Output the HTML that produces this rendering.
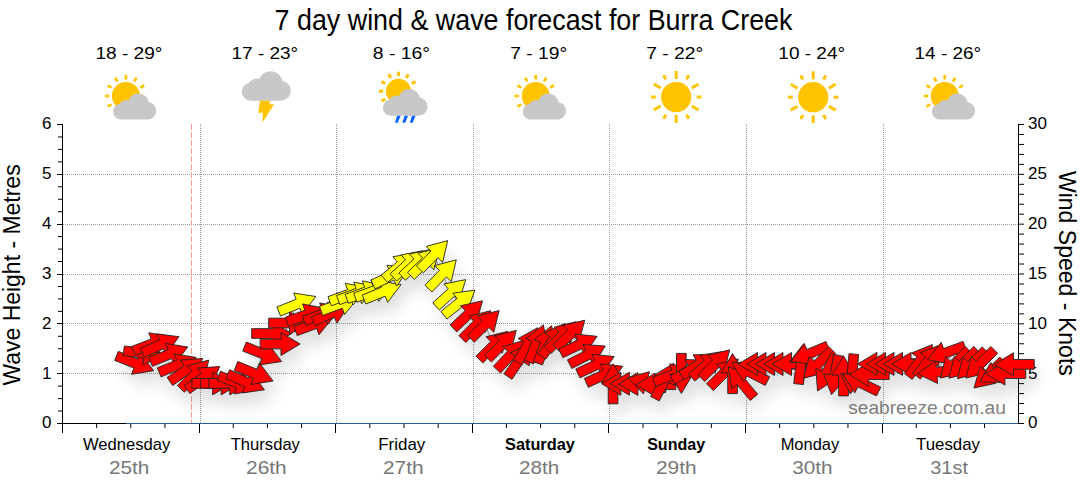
<!DOCTYPE html><html><head><meta charset="utf-8"><style>html,body{margin:0;padding:0;background:#fff;width:1080px;height:490px;overflow:hidden}svg{display:block}text{font-family:"Liberation Sans",sans-serif}</style></head><body>
<svg width="1080" height="490" viewBox="0 0 1080 490">
<defs><filter id="ash" x="-20%" y="-50%" width="140%" height="200%"><feGaussianBlur stdDeviation="8"/></filter></defs>
<text x="274.62" y="30" font-size="29.8" textLength="517.84" lengthAdjust="spacingAndGlyphs" fill="#000">7 day wind &amp; wave forecast for Burra Creek</text>
<text x="95.45" y="59" font-size="16.6" textLength="67.00" lengthAdjust="spacingAndGlyphs" fill="#000">18 - 29°</text>
<text x="231.56" y="59" font-size="16.6" textLength="66.58" lengthAdjust="spacingAndGlyphs" fill="#000">17 - 23°</text>
<text x="372.86" y="59" font-size="16.6" textLength="57.20" lengthAdjust="spacingAndGlyphs" fill="#000">8 - 16°</text>
<text x="510.31" y="59" font-size="16.6" textLength="56.94" lengthAdjust="spacingAndGlyphs" fill="#000">7 - 19°</text>
<text x="646.21" y="59" font-size="16.6" textLength="57.05" lengthAdjust="spacingAndGlyphs" fill="#000">7 - 22°</text>
<text x="778.35" y="59" font-size="16.6" textLength="66.79" lengthAdjust="spacingAndGlyphs" fill="#000">10 - 24°</text>
<text x="914.56" y="59" font-size="16.6" textLength="66.58" lengthAdjust="spacingAndGlyphs" fill="#000">14 - 26°</text>
<circle cx="125.9" cy="96" r="14" fill="#ffc300"/><path d="M125.90 79.40L125.90 74.90M134.20 81.62L136.45 77.73M140.28 87.70L144.17 85.45M111.52 104.30L107.63 106.55M109.30 96.00L104.80 96.00M111.52 87.70L107.63 85.45M117.60 81.62L115.35 77.73" stroke="#ffc300" stroke-width="2.7" fill="none"/><path d="M127.94 104.34A10.54 10.54 0 1 1 149.01 104.34A10.54 10.54 0 1 1 127.94 104.34ZM117.75 108.90A8.78 8.78 0 1 1 135.31 108.90A8.78 8.78 0 1 1 117.75 108.90ZM113.10 111.71A7.90 7.90 0 1 1 128.90 111.71A7.90 7.90 0 1 1 113.10 111.71ZM138.74 110.83A8.78 8.78 0 1 1 156.30 110.83A8.78 8.78 0 1 1 138.74 110.83ZM121.00 108.46h26.52v11.15h-26.52Z" fill="#c8c8c8"/><path d="M258.60 83.30A12.00 12.00 0 1 1 282.60 83.30A12.00 12.00 0 1 1 258.60 83.30ZM247.00 88.50A10.00 10.00 0 1 1 267.00 88.50A10.00 10.00 0 1 1 247.00 88.50ZM241.70 91.70A9.00 9.00 0 1 1 259.70 91.70A9.00 9.00 0 1 1 241.70 91.70ZM270.90 90.70A10.00 10.00 0 1 1 290.90 90.70A10.00 10.00 0 1 1 270.90 90.70ZM250.70 88.00h30.20v12.70h-30.20Z" fill="#c8c8c8"/><polygon points="260.0,100.7 270.2,100.7 269.1,104.2 274.0,104.2 262.6,122.6 262.9,112.7 258.2,112.7" fill="#ffc300"/><circle cx="398.5" cy="91.3" r="12.6" fill="#ffc300"/><path d="M398.50 75.90L398.50 71.70M406.20 77.96L408.30 74.33M411.84 83.60L415.47 81.50M385.16 99.00L381.53 101.10M383.10 91.30L378.90 91.30M385.16 83.60L381.53 81.50M390.80 77.96L388.70 74.33" stroke="#ffc300" stroke-width="3" fill="none"/><path d="M398.21 99.94A10.94 10.94 0 1 1 420.10 99.94A10.94 10.94 0 1 1 398.21 99.94ZM387.63 104.69A9.12 9.12 0 1 1 405.87 104.69A9.12 9.12 0 1 1 387.63 104.69ZM382.80 107.60A8.21 8.21 0 1 1 399.22 107.60A8.21 8.21 0 1 1 382.80 107.60ZM409.43 106.69A9.12 9.12 0 1 1 427.67 106.69A9.12 9.12 0 1 1 409.43 106.69ZM391.01 104.23h27.54v11.58h-27.54Z" fill="#c8c8c8"/><polygon points="397.0,115.7 400.6,115.7 397.8,122.7 394.9,122.7" fill="#0a64ff"/><polygon points="404.45,115.7 408.05,115.7 405.25,122.7 402.34999999999997,122.7" fill="#0a64ff"/><polygon points="411.9,115.7 415.5,115.7 412.7,122.7 409.79999999999995,122.7" fill="#0a64ff"/><circle cx="535.7" cy="96" r="14" fill="#ffc300"/><path d="M535.70 79.40L535.70 74.90M544.00 81.62L546.25 77.73M550.08 87.70L553.97 85.45M521.32 104.30L517.43 106.55M519.10 96.00L514.60 96.00M521.32 87.70L517.43 85.45M527.40 81.62L525.15 77.73" stroke="#ffc300" stroke-width="2.7" fill="none"/><path d="M537.74 104.34A10.54 10.54 0 1 1 558.81 104.34A10.54 10.54 0 1 1 537.74 104.34ZM527.55 108.90A8.78 8.78 0 1 1 545.11 108.90A8.78 8.78 0 1 1 527.55 108.90ZM522.90 111.71A7.90 7.90 0 1 1 538.70 111.71A7.90 7.90 0 1 1 522.90 111.71ZM548.54 110.83A8.78 8.78 0 1 1 566.10 110.83A8.78 8.78 0 1 1 548.54 110.83ZM530.80 108.46h26.52v11.15h-26.52Z" fill="#c8c8c8"/><circle cx="676.2" cy="97" r="15.1" fill="#ffc300"/><path d="M676.20 79.00L676.20 71.10M686.45 79.25L688.80 75.18M691.79 88.00L698.63 84.05M696.70 97.00L701.40 97.00M691.79 106.00L698.63 109.95M686.45 114.75L688.80 118.82M676.20 115.00L676.20 122.90M665.95 114.75L663.60 118.82M660.61 106.00L653.77 109.95M655.70 97.00L651.00 97.00M660.61 88.00L653.77 84.05M665.95 79.25L663.60 75.18" stroke="#ffc300" stroke-width="3" fill="none"/><circle cx="813.2" cy="97.2" r="15.1" fill="#ffc300"/><path d="M813.20 79.20L813.20 71.30M823.45 79.45L825.80 75.38M828.79 88.20L835.63 84.25M833.70 97.20L838.40 97.20M828.79 106.20L835.63 110.15M823.45 114.95L825.80 119.02M813.20 115.20L813.20 123.10M802.95 114.95L800.60 119.02M797.61 106.20L790.77 110.15M792.70 97.20L788.00 97.20M797.61 88.20L790.77 84.25M802.95 79.45L800.60 75.38" stroke="#ffc300" stroke-width="3" fill="none"/><circle cx="944.7" cy="96" r="14" fill="#ffc300"/><path d="M944.70 79.40L944.70 74.90M953.00 81.62L955.25 77.73M959.08 87.70L962.97 85.45M930.32 104.30L926.43 106.55M928.10 96.00L923.60 96.00M930.32 87.70L926.43 85.45M936.40 81.62L934.15 77.73" stroke="#ffc300" stroke-width="2.7" fill="none"/><path d="M946.74 104.34A10.54 10.54 0 1 1 967.81 104.34A10.54 10.54 0 1 1 946.74 104.34ZM936.55 108.90A8.78 8.78 0 1 1 954.11 108.90A8.78 8.78 0 1 1 936.55 108.90ZM931.90 111.71A7.90 7.90 0 1 1 947.70 111.71A7.90 7.90 0 1 1 931.90 111.71ZM957.54 110.83A8.78 8.78 0 1 1 975.10 110.83A8.78 8.78 0 1 1 957.54 110.83ZM939.80 108.46h26.52v11.15h-26.52Z" fill="#c8c8c8"/>
<text x="848.17" y="414" font-size="19" textLength="157.71" lengthAdjust="spacingAndGlyphs" fill="#808080">seabreeze.com.au</text>
<line x1="63" y1="373.5" x2="1018" y2="373.5" stroke="#999" stroke-width="1" stroke-dasharray="1 1"/>
<line x1="63" y1="323.5" x2="1018" y2="323.5" stroke="#999" stroke-width="1" stroke-dasharray="1 1"/>
<line x1="63" y1="274.5" x2="1018" y2="274.5" stroke="#999" stroke-width="1" stroke-dasharray="1 1"/>
<line x1="63" y1="224.5" x2="1018" y2="224.5" stroke="#999" stroke-width="1" stroke-dasharray="1 1"/>
<line x1="63" y1="174.5" x2="1018" y2="174.5" stroke="#999" stroke-width="1" stroke-dasharray="1 1"/>
<line x1="200.5" y1="124" x2="200.5" y2="423" stroke="#999" stroke-width="1" stroke-dasharray="1 1"/>
<line x1="336.5" y1="124" x2="336.5" y2="423" stroke="#999" stroke-width="1" stroke-dasharray="1 1"/>
<line x1="473.5" y1="124" x2="473.5" y2="423" stroke="#999" stroke-width="1" stroke-dasharray="1 1"/>
<line x1="609.5" y1="124" x2="609.5" y2="423" stroke="#999" stroke-width="1" stroke-dasharray="1 1"/>
<line x1="746.5" y1="124" x2="746.5" y2="423" stroke="#999" stroke-width="1" stroke-dasharray="1 1"/>
<line x1="883.5" y1="124" x2="883.5" y2="423" stroke="#999" stroke-width="1" stroke-dasharray="1 1"/>
<line x1="191.5" y1="124" x2="191.5" y2="423" stroke="#ff9999" stroke-width="1" stroke-dasharray="6 2"/>
<g stroke="#000" stroke-width="1" shape-rendering="crispEdges">
<line x1="62.5" y1="124" x2="62.5" y2="433"/>
<line x1="57" y1="423.5" x2="126" y2="423.5"/>
<line x1="1018.5" y1="124" x2="1018.5" y2="424"/>
<line x1="57" y1="423.5" x2="62" y2="423.5"/>
<line x1="57" y1="373.5" x2="62" y2="373.5"/>
<line x1="57" y1="323.5" x2="62" y2="323.5"/>
<line x1="57" y1="274.5" x2="62" y2="274.5"/>
<line x1="57" y1="224.5" x2="62" y2="224.5"/>
<line x1="57" y1="174.5" x2="62" y2="174.5"/>
<line x1="57" y1="124.5" x2="62" y2="124.5"/>
<line x1="199.5" y1="424" x2="199.5" y2="433"/>
<line x1="335.5" y1="424" x2="335.5" y2="433"/>
<line x1="472.5" y1="424" x2="472.5" y2="433"/>
<line x1="608.5" y1="424" x2="608.5" y2="433"/>
<line x1="745.5" y1="424" x2="745.5" y2="433"/>
<line x1="882.5" y1="424" x2="882.5" y2="433"/>
</g><g stroke="#000" stroke-width="1">
<line x1="58" y1="411.04" x2="62" y2="411.04"/>
<line x1="58" y1="398.58" x2="62" y2="398.58"/>
<line x1="58" y1="386.12" x2="62" y2="386.12"/>
<line x1="58" y1="361.21" x2="62" y2="361.21"/>
<line x1="58" y1="348.75" x2="62" y2="348.75"/>
<line x1="58" y1="336.29" x2="62" y2="336.29"/>
<line x1="58" y1="311.38" x2="62" y2="311.38"/>
<line x1="58" y1="298.92" x2="62" y2="298.92"/>
<line x1="58" y1="286.46" x2="62" y2="286.46"/>
<line x1="58" y1="261.54" x2="62" y2="261.54"/>
<line x1="58" y1="249.08" x2="62" y2="249.08"/>
<line x1="58" y1="236.62" x2="62" y2="236.62"/>
<line x1="58" y1="211.71" x2="62" y2="211.71"/>
<line x1="58" y1="199.25" x2="62" y2="199.25"/>
<line x1="58" y1="186.79" x2="62" y2="186.79"/>
<line x1="58" y1="161.88" x2="62" y2="161.88"/>
<line x1="58" y1="149.42" x2="62" y2="149.42"/>
<line x1="58" y1="136.96" x2="62" y2="136.96"/>
<line x1="1019" y1="423.50" x2="1024" y2="423.50"/>
<line x1="1019" y1="413.53" x2="1024" y2="413.53"/>
<line x1="1019" y1="403.57" x2="1024" y2="403.57"/>
<line x1="1019" y1="393.60" x2="1024" y2="393.60"/>
<line x1="1019" y1="383.63" x2="1024" y2="383.63"/>
<line x1="1019" y1="373.67" x2="1024" y2="373.67"/>
<line x1="1019" y1="363.70" x2="1024" y2="363.70"/>
<line x1="1019" y1="353.73" x2="1024" y2="353.73"/>
<line x1="1019" y1="343.77" x2="1024" y2="343.77"/>
<line x1="1019" y1="333.80" x2="1024" y2="333.80"/>
<line x1="1019" y1="323.83" x2="1024" y2="323.83"/>
<line x1="1019" y1="313.87" x2="1024" y2="313.87"/>
<line x1="1019" y1="303.90" x2="1024" y2="303.90"/>
<line x1="1019" y1="293.93" x2="1024" y2="293.93"/>
<line x1="1019" y1="283.97" x2="1024" y2="283.97"/>
<line x1="1019" y1="274.00" x2="1024" y2="274.00"/>
<line x1="1019" y1="264.03" x2="1024" y2="264.03"/>
<line x1="1019" y1="254.07" x2="1024" y2="254.07"/>
<line x1="1019" y1="244.10" x2="1024" y2="244.10"/>
<line x1="1019" y1="234.13" x2="1024" y2="234.13"/>
<line x1="1019" y1="224.17" x2="1024" y2="224.17"/>
<line x1="1019" y1="214.20" x2="1024" y2="214.20"/>
<line x1="1019" y1="204.23" x2="1024" y2="204.23"/>
<line x1="1019" y1="194.27" x2="1024" y2="194.27"/>
<line x1="1019" y1="184.30" x2="1024" y2="184.30"/>
<line x1="1019" y1="174.33" x2="1024" y2="174.33"/>
<line x1="1019" y1="164.37" x2="1024" y2="164.37"/>
<line x1="1019" y1="154.40" x2="1024" y2="154.40"/>
<line x1="1019" y1="144.43" x2="1024" y2="144.43"/>
<line x1="1019" y1="134.47" x2="1024" y2="134.47"/>
<line x1="1019" y1="124.50" x2="1024" y2="124.50"/>
<line x1="96.65" y1="424" x2="96.65" y2="428"/>
<line x1="130.80" y1="424" x2="130.80" y2="428"/>
<line x1="164.95" y1="424" x2="164.95" y2="428"/>
<line x1="233.25" y1="424" x2="233.25" y2="428"/>
<line x1="267.40" y1="424" x2="267.40" y2="428"/>
<line x1="301.55" y1="424" x2="301.55" y2="428"/>
<line x1="369.85" y1="424" x2="369.85" y2="428"/>
<line x1="404.00" y1="424" x2="404.00" y2="428"/>
<line x1="438.15" y1="424" x2="438.15" y2="428"/>
<line x1="506.45" y1="424" x2="506.45" y2="428"/>
<line x1="540.60" y1="424" x2="540.60" y2="428"/>
<line x1="574.75" y1="424" x2="574.75" y2="428"/>
<line x1="643.05" y1="424" x2="643.05" y2="428"/>
<line x1="677.20" y1="424" x2="677.20" y2="428"/>
<line x1="711.35" y1="424" x2="711.35" y2="428"/>
<line x1="779.65" y1="424" x2="779.65" y2="428"/>
<line x1="813.80" y1="424" x2="813.80" y2="428"/>
<line x1="847.95" y1="424" x2="847.95" y2="428"/>
<line x1="916.25" y1="424" x2="916.25" y2="428"/>
<line x1="950.40" y1="424" x2="950.40" y2="428"/>
<line x1="984.55" y1="424" x2="984.55" y2="428"/>
</g>
<line x1="126" y1="423.5" x2="1018" y2="423.5" stroke="#2a6496" stroke-width="1" shape-rendering="crispEdges"/>
<text x="51.5" y="428.3" font-size="17" text-anchor="end" fill="#000">0</text>
<text x="51.5" y="378.5" font-size="17" text-anchor="end" fill="#000">1</text>
<text x="51.5" y="328.6" font-size="17" text-anchor="end" fill="#000">2</text>
<text x="51.5" y="278.8" font-size="17" text-anchor="end" fill="#000">3</text>
<text x="51.5" y="229.0" font-size="17" text-anchor="end" fill="#000">4</text>
<text x="51.5" y="179.1" font-size="17" text-anchor="end" fill="#000">5</text>
<text x="51.5" y="129.3" font-size="17" text-anchor="end" fill="#000">6</text>
<text x="1028" y="428.3" font-size="17" fill="#000">0</text>
<text x="1028" y="378.5" font-size="17" fill="#000">5</text>
<text x="1028" y="328.6" font-size="17" fill="#000">10</text>
<text x="1028" y="278.8" font-size="17" fill="#000">15</text>
<text x="1028" y="229.0" font-size="17" fill="#000">20</text>
<text x="1028" y="179.1" font-size="17" fill="#000">25</text>
<text x="1028" y="129.3" font-size="17" fill="#000">30</text>
<g transform="translate(20,385.5) rotate(-90)">
<text x="-0.10" y="0" font-size="23.5" textLength="221.23" lengthAdjust="spacingAndGlyphs" fill="#000">Wave Height - Metres</text>
</g>
<g transform="translate(1059.4,171) rotate(90)">
<text x="-0.10" y="0" font-size="23.5" textLength="204.93" lengthAdjust="spacingAndGlyphs" fill="#000">Wind Speed - Knots</text>
</g>
<text x="82.93" y="450" font-size="17" textLength="87.36" lengthAdjust="spacingAndGlyphs" fill="#000">Wednesday</text>
<text x="108.96" y="474" font-size="18.5" textLength="40.39" lengthAdjust="spacingAndGlyphs" fill="#777">25th</text>
<text x="230.73" y="450" font-size="17" textLength="69.21" lengthAdjust="spacingAndGlyphs" fill="#000">Thursday</text>
<text x="246.05" y="474" font-size="18.5" textLength="40.71" lengthAdjust="spacingAndGlyphs" fill="#777">26th</text>
<text x="378.21" y="450" font-size="17" textLength="47.12" lengthAdjust="spacingAndGlyphs" fill="#000">Friday</text>
<text x="382.95" y="474" font-size="18.5" textLength="40.60" lengthAdjust="spacingAndGlyphs" fill="#777">27th</text>
<text x="505.03" y="450" font-size="17" font-weight="bold" textLength="69.76" lengthAdjust="spacingAndGlyphs" fill="#000">Saturday</text>
<text x="519.06" y="474" font-size="18.5" textLength="40.18" lengthAdjust="spacingAndGlyphs" fill="#777">28th</text>
<text x="647.14" y="450" font-size="17" font-weight="bold" textLength="57.95" lengthAdjust="spacingAndGlyphs" fill="#000">Sunday</text>
<text x="655.95" y="474" font-size="18.5" textLength="40.71" lengthAdjust="spacingAndGlyphs" fill="#777">29th</text>
<text x="780.65" y="450" font-size="17" textLength="58.58" lengthAdjust="spacingAndGlyphs" fill="#000">Monday</text>
<text x="792.21" y="474" font-size="18.5" textLength="40.34" lengthAdjust="spacingAndGlyphs" fill="#777">30th</text>
<text x="916.03" y="450" font-size="17" textLength="64.01" lengthAdjust="spacingAndGlyphs" fill="#000">Tuesday</text>
<text x="930.24" y="474" font-size="18.5" textLength="37.71" lengthAdjust="spacingAndGlyphs" fill="#777">31st</text>
<g filter="url(#ash)" fill="#000" opacity="0.13" transform="translate(5,12)"><polygon points="118.29,351.37 137.60,359.09 140.07,352.92 153.63,370.73 131.53,374.27 134.00,368.10 114.69,360.38"/><polygon points="124.33,345.95 144.98,348.48 145.79,341.88 163.44,355.64 142.98,364.71 143.79,358.11 123.15,355.58"/><polygon points="131.72,346.44 151.14,338.99 148.75,332.78 170.80,336.63 157.00,354.25 154.61,348.04 135.19,355.50"/><polygon points="140.40,348.30 159.45,339.94 156.77,333.85 178.98,336.66 166.02,354.91 163.35,348.82 144.30,357.18"/><polygon points="148.82,357.25 168.16,349.60 165.71,343.41 187.80,347.04 174.18,364.80 171.73,358.61 152.39,366.27"/><polygon points="157.37,367.86 176.67,360.10 174.19,353.93 196.29,357.44 182.77,375.27 180.29,369.10 160.99,376.86"/><polygon points="167.11,377.50 184.15,365.57 180.33,360.12 202.66,358.53 193.52,378.96 189.71,373.51 172.67,385.44"/><polygon points="177.43,385.52 191.87,370.56 187.09,365.94 208.70,360.11 203.64,381.91 198.85,377.29 184.40,392.26"/><polygon points="184.18,385.50 201.22,373.57 197.40,368.12 219.73,366.53 210.60,386.96 206.78,381.51 189.74,393.44"/><polygon points="191.88,378.55 212.68,378.55 212.68,371.90 231.88,383.40 212.68,394.90 212.68,388.25 191.88,388.25"/><polygon points="200.42,378.55 221.22,378.55 221.22,371.90 240.42,383.40 221.22,394.90 221.22,388.25 200.42,388.25"/><polygon points="208.95,378.55 229.75,378.55 229.75,371.90 248.95,383.40 229.75,394.90 229.75,388.25 208.95,388.25"/><polygon points="220.55,371.30 239.97,378.76 242.36,372.55 256.16,390.17 234.11,394.02 236.50,387.81 217.08,380.36"/><polygon points="229.51,369.72 248.66,377.85 251.25,371.73 264.43,389.81 242.27,392.90 244.87,386.78 225.72,378.65"/><polygon points="237.83,361.51 257.12,369.30 259.61,363.14 273.10,380.99 250.99,384.46 253.48,378.30 234.20,370.50"/><polygon points="246.37,342.01 265.65,349.80 268.15,343.64 281.64,361.49 259.53,364.96 262.02,358.80 242.74,351.00"/><polygon points="251.63,328.65 272.43,328.65 272.43,322.00 291.63,333.50 272.43,345.00 272.43,338.35 251.63,338.35"/><polygon points="260.17,339.15 280.97,339.15 280.97,332.50 300.17,344.00 280.97,355.50 280.97,348.85 260.17,348.85"/><polygon points="268.70,318.15 289.50,318.15 289.50,311.50 308.70,323.00 289.50,334.50 289.50,327.85 268.70,327.85"/><polygon points="276.88,307.00 296.16,299.20 293.67,293.04 315.78,296.51 302.29,314.36 299.80,308.20 280.51,315.99"/><polygon points="285.32,317.28 304.87,310.17 302.59,303.92 324.57,308.16 310.46,325.53 308.19,319.28 288.64,326.40"/><polygon points="293.86,326.48 313.40,319.37 311.13,313.12 333.11,317.36 319.00,334.73 316.72,328.48 297.18,335.60"/><polygon points="302.40,316.28 321.94,309.17 319.67,302.92 341.64,307.16 327.53,324.53 325.26,318.28 305.71,325.40"/><polygon points="311.21,317.06 330.06,308.27 327.25,302.24 349.51,304.55 336.97,323.08 334.16,317.06 315.31,325.85"/><polygon points="319.47,306.28 339.01,299.17 336.74,292.92 358.71,297.16 344.60,314.53 342.33,308.28 322.78,315.40"/><polygon points="328.00,296.68 347.55,289.57 345.27,283.32 367.25,287.56 353.14,304.93 350.87,298.68 331.32,305.80"/><polygon points="336.54,295.48 356.08,288.37 353.81,282.12 375.79,286.36 361.68,303.73 359.40,297.48 339.86,304.60"/><polygon points="345.08,294.28 364.62,287.17 362.35,280.92 384.32,285.16 370.21,302.53 367.94,296.28 348.39,303.40"/><polygon points="353.61,293.08 373.16,285.97 370.88,279.72 392.86,283.96 378.75,301.33 376.47,295.08 356.93,302.20"/><polygon points="362.24,295.00 381.52,287.20 379.03,281.04 401.14,284.51 387.65,302.36 385.16,296.20 365.87,303.99"/><polygon points="370.96,280.06 389.81,271.27 387.00,265.24 409.26,267.55 396.72,286.08 393.91,280.06 375.06,288.85"/><polygon points="381.23,275.14 397.17,261.77 392.89,256.68 414.99,253.14 407.68,274.30 403.40,269.20 387.47,282.57"/><polygon points="390.10,273.78 405.56,259.86 401.11,254.92 423.07,250.62 416.50,272.01 412.05,267.07 396.59,280.99"/><polygon points="398.81,273.09 414.02,258.91 409.49,254.04 431.37,249.36 425.17,270.86 420.64,266.00 405.42,280.19"/><polygon points="407.52,272.40 422.49,257.96 417.87,253.17 439.67,248.11 433.84,269.72 429.22,264.93 414.26,279.38"/><polygon points="416.43,266.02 430.88,251.06 426.10,246.44 447.71,240.61 442.64,262.41 437.86,257.79 423.41,272.76"/><polygon points="424.97,285.22 439.42,270.26 434.64,265.64 456.25,259.81 451.18,281.61 446.40,276.99 431.95,291.96"/><polygon points="432.78,302.78 448.24,288.86 443.79,283.92 465.75,279.62 459.18,301.01 454.73,296.07 439.27,309.99"/><polygon points="440.83,311.52 456.99,298.43 452.81,293.26 474.97,290.11 467.28,311.13 463.10,305.97 446.93,319.06"/><polygon points="450.11,324.85 465.20,310.53 460.62,305.71 482.47,300.83 476.46,322.39 471.88,317.57 456.79,331.89"/><polygon points="458.92,335.61 473.63,320.90 468.93,316.20 490.64,310.76 485.19,332.47 480.49,327.76 465.78,342.47"/><polygon points="467.46,335.41 482.17,320.70 477.47,316.00 499.17,310.56 493.73,332.27 489.03,327.56 474.32,342.27"/><polygon points="476.00,356.21 490.70,341.50 486.00,336.80 507.71,331.36 502.27,353.07 497.56,348.36 482.86,363.07"/><polygon points="484.53,355.21 499.24,340.50 494.54,335.80 516.25,330.36 510.80,352.07 506.10,347.36 491.39,362.07"/><polygon points="493.45,366.32 507.64,351.11 502.78,346.57 524.28,340.37 519.60,362.26 514.73,357.72 500.55,372.93"/><polygon points="503.97,373.87 515.60,356.62 510.09,352.91 530.36,343.42 529.16,365.77 523.64,362.05 512.01,379.29"/><polygon points="513.51,359.90 523.91,341.88 518.15,338.56 537.71,327.68 538.07,350.06 532.31,346.73 521.91,364.75"/><polygon points="524.55,360.43 532.01,341.02 525.80,338.63 543.42,324.83 547.27,346.87 541.06,344.49 533.61,363.91"/><polygon points="533.39,361.64 540.50,342.09 534.25,339.82 551.62,325.71 555.86,347.68 549.62,345.41 542.50,364.95"/><polygon points="537.88,353.60 549.81,336.56 544.36,332.75 564.79,323.62 563.20,345.94 557.75,342.13 545.82,359.16"/><polygon points="544.28,346.61 558.99,331.90 554.29,327.20 576.00,321.76 570.55,343.47 565.85,338.76 551.14,353.47"/><polygon points="552.64,344.50 567.60,330.06 562.98,325.27 584.78,320.21 578.96,341.82 574.34,337.03 559.37,351.48"/><polygon points="558.75,348.86 577.60,340.07 574.79,334.04 597.05,336.35 584.51,354.88 581.70,348.86 562.85,357.65"/><polygon points="567.44,359.86 585.97,350.42 582.96,344.49 605.28,346.02 593.40,364.98 590.38,359.06 571.85,368.50"/><polygon points="575.82,369.06 594.68,360.27 591.86,354.24 614.13,356.55 601.59,375.08 598.77,369.06 579.92,377.85"/><polygon points="584.33,378.48 603.25,369.85 600.49,363.80 622.74,366.31 610.03,384.73 607.28,378.68 588.35,387.31"/><polygon points="608.22,403.80 608.22,383.00 601.57,383.00 613.07,363.80 624.57,383.00 617.92,383.00 617.92,403.80"/><polygon points="641.61,388.55 620.81,388.55 620.81,395.20 601.61,383.70 620.81,372.20 620.81,378.85 641.61,378.85"/><polygon points="650.14,388.55 629.34,388.55 629.34,395.20 610.14,383.70 629.34,372.20 629.34,378.85 650.14,378.85"/><polygon points="658.68,388.85 637.88,388.85 637.88,395.50 618.68,384.00 637.88,372.50 637.88,379.15 658.68,379.15"/><polygon points="665.28,392.86 645.19,387.48 643.47,393.90 627.90,377.82 649.42,371.68 647.70,378.11 667.79,383.49"/><polygon points="675.75,389.55 654.95,389.55 654.95,396.20 635.75,384.70 654.95,373.20 654.95,379.85 675.75,379.85"/><polygon points="650.62,396.38 660.38,378.02 654.51,374.89 673.68,363.34 674.82,385.69 668.95,382.57 659.18,400.94"/><polygon points="652.37,377.28 671.92,370.17 669.64,363.92 691.62,368.16 677.51,385.53 675.23,379.28 655.69,386.40"/><polygon points="686.21,353.40 686.21,374.20 692.86,374.20 681.36,393.40 669.86,374.20 676.51,374.20 676.51,353.40"/><polygon points="670.15,375.80 688.16,365.40 684.84,359.64 707.22,360.00 696.34,379.56 693.01,373.80 675.00,384.20"/><polygon points="678.90,371.49 696.54,360.46 693.02,354.82 715.39,354.40 705.20,374.33 701.68,368.69 684.04,379.71"/><polygon points="688.53,373.64 704.46,360.27 700.19,355.18 722.29,351.64 714.97,372.80 710.70,367.70 694.76,381.07"/><polygon points="697.93,374.71 712.64,360.00 707.94,355.30 729.65,349.86 724.20,371.57 719.50,366.86 704.79,381.57"/><polygon points="706.47,383.71 721.18,369.00 716.47,364.30 738.18,358.86 732.74,380.57 728.04,375.86 713.33,390.57"/><polygon points="727.73,393.60 727.73,372.80 721.08,372.80 732.58,353.60 744.08,372.80 737.43,372.80 737.43,393.60"/><polygon points="750.25,400.44 736.88,384.50 731.79,388.78 728.26,366.68 749.41,374.00 744.31,378.27 757.68,394.20"/><polygon points="765.27,385.40 746.73,375.96 743.71,381.88 731.83,362.92 754.16,361.39 751.14,367.32 769.67,376.76"/><polygon points="778.18,368.85 757.38,368.85 757.38,375.50 738.18,364.00 757.38,352.50 757.38,359.15 778.18,359.15"/><polygon points="786.72,368.85 765.92,368.85 765.92,375.50 746.72,364.00 765.92,352.50 765.92,359.15 786.72,359.15"/><polygon points="795.26,368.85 774.46,368.85 774.46,375.50 755.26,364.00 774.46,352.50 774.46,359.15 795.26,359.15"/><polygon points="803.79,368.85 782.99,368.85 782.99,375.50 763.79,364.00 782.99,352.50 782.99,359.15 803.79,359.15"/><polygon points="812.33,368.85 791.53,368.85 791.53,375.50 772.33,364.00 791.53,352.50 791.53,359.15 812.33,359.15"/><polygon points="793.78,383.52 796.14,362.86 789.53,362.10 803.13,344.33 812.38,364.71 805.77,363.95 803.42,384.62"/><polygon points="829.73,350.49 810.53,358.49 813.08,364.62 790.94,361.39 804.24,343.39 806.80,349.53 826.00,341.54"/><polygon points="835.51,353.29 820.80,368.00 825.50,372.70 803.79,378.14 809.24,356.43 813.94,361.14 828.65,346.43"/><polygon points="839.76,357.29 830.45,375.89 836.40,378.86 817.52,390.88 815.83,368.57 821.78,371.54 831.09,352.95"/><polygon points="843.26,356.15 839.65,376.63 846.19,377.78 831.54,394.70 823.54,373.79 830.09,374.95 833.70,354.46"/><polygon points="838.69,395.90 838.69,375.10 832.04,375.10 843.54,355.90 855.04,375.10 848.39,375.10 848.39,395.90"/><polygon points="858.65,354.50 856.84,375.22 863.47,375.80 850.34,393.92 840.55,373.79 847.18,374.37 848.99,353.65"/><polygon points="876.47,395.93 857.77,386.81 854.86,392.79 842.64,374.03 864.94,372.11 862.02,378.09 880.72,387.21"/><polygon points="889.15,379.45 868.35,379.45 868.35,386.10 849.15,374.60 868.35,363.10 868.35,369.75 889.15,369.75"/><polygon points="897.69,368.75 876.89,368.75 876.89,375.40 857.69,363.90 876.89,352.40 876.89,359.05 897.69,359.05"/><polygon points="906.22,368.75 885.42,368.75 885.42,375.40 866.22,363.90 885.42,352.40 885.42,359.05 906.22,359.05"/><polygon points="914.76,368.75 893.96,368.75 893.96,375.40 874.76,363.90 893.96,352.40 893.96,359.05 914.76,359.05"/><polygon points="923.30,368.75 902.50,368.75 902.50,375.40 883.30,363.90 902.50,352.40 902.50,359.05 923.30,359.05"/><polygon points="931.83,368.75 911.03,368.75 911.03,375.40 891.83,363.90 911.03,352.40 911.03,359.05 931.83,359.05"/><polygon points="904.46,373.55 916.98,356.94 911.67,352.94 932.40,344.53 930.03,366.78 924.72,362.78 912.21,379.39"/><polygon points="912.77,373.07 925.57,356.68 920.33,352.59 941.22,344.54 938.46,366.75 933.22,362.66 920.41,379.05"/><polygon points="957.79,375.09 937.07,376.90 937.65,383.53 917.52,373.74 935.64,360.61 936.22,367.24 956.94,365.43"/><polygon points="966.43,350.52 946.88,357.63 949.16,363.88 927.18,359.64 941.29,342.27 943.57,348.52 963.11,341.40"/><polygon points="972.08,353.29 957.38,368.00 962.08,372.70 940.37,378.14 945.81,356.43 950.52,361.14 965.22,346.43"/><polygon points="980.62,353.29 965.91,368.00 970.61,372.70 948.91,378.14 954.35,356.43 959.05,361.14 973.76,346.43"/><polygon points="989.16,353.79 974.45,368.50 979.15,373.20 957.44,378.64 962.89,356.93 967.59,361.64 982.30,346.93"/><polygon points="997.69,353.29 982.98,368.00 987.69,372.70 965.98,378.14 971.42,356.43 976.12,361.14 990.83,346.43"/><polygon points="1006.59,364.21 991.38,378.39 995.91,383.26 974.03,387.94 980.23,366.44 984.76,371.30 999.98,357.11"/><polygon points="1016.94,366.20 998.92,376.60 1002.25,382.36 979.87,382.00 990.75,362.44 994.07,368.20 1012.09,357.80"/><polygon points="1025.73,378.45 1004.93,378.45 1004.93,385.10 985.73,373.60 1004.93,362.10 1004.93,368.75 1025.73,368.75"/><polygon points="1034.26,369.15 1013.46,369.15 1013.46,375.80 994.26,364.30 1013.46,352.80 1013.46,359.45 1034.26,359.45"/></g><polyline points="135.1,363.3 143.6,353.2 152.1,343.8 160.7,344.7 169.2,354.4 177.7,364.9 186.3,370.0 194.8,374.5 203.3,378.0 211.9,383.4 220.4,383.4 229.0,383.4 237.5,383.0 246.0,382.0 254.6,373.5 263.1,354.0 271.6,333.5 280.2,344.0 288.7,323.0 297.2,304.0 305.8,315.0 314.3,324.2 322.8,314.0 331.4,313.0 339.9,304.0 348.5,294.4 357.0,293.2 365.5,292.0 374.1,290.8 382.6,292.0 391.1,276.0 399.7,266.0 408.2,264.0 416.7,263.0 425.3,262.0 433.8,255.0 442.4,274.2 450.9,293.0 459.4,302.7 468.0,314.6 476.5,324.9 485.0,324.7 493.6,345.5 502.1,344.5 510.6,355.0 519.2,360.0 527.7,345.0 536.2,343.5 544.8,344.5 553.3,340.0 561.9,335.9 570.4,334.1 578.9,344.8 587.5,355.1 596.0,365.0 604.5,374.6 613.1,383.8 621.6,383.7 630.1,383.7 638.7,384.0 647.2,383.0 655.8,384.7 664.3,381.0 672.8,375.0 681.4,373.4 689.9,370.0 698.4,365.0 707.0,364.5 715.5,364.0 724.0,373.0 732.6,373.6 741.1,382.0 749.6,372.0 758.2,364.0 766.7,364.0 775.3,364.0 783.8,364.0 792.3,364.0 800.9,364.2 809.4,353.7 817.9,364.0 826.5,373.0 835.0,375.0 843.5,375.9 852.1,374.0 860.6,382.8 869.2,374.6 877.7,363.9 886.2,363.9 894.8,363.9 903.3,363.9 911.8,363.9 920.4,360.5 928.9,360.3 937.4,372.0 946.0,352.8 954.5,364.0 963.0,364.0 971.6,364.5 980.1,364.0 988.7,374.3 997.2,372.0 1005.7,373.6 1014.3,364.3" fill="none" stroke="#888" stroke-width="1"/><g stroke="#222" stroke-width="0.9" stroke-linejoin="miter"><polygon points="118.29,351.37 137.60,359.09 140.07,352.92 153.63,370.73 131.53,374.27 134.00,368.10 114.69,360.38" fill="#ff0000"/><polygon points="124.33,345.95 144.98,348.48 145.79,341.88 163.44,355.64 142.98,364.71 143.79,358.11 123.15,355.58" fill="#ff0000"/><polygon points="131.72,346.44 151.14,338.99 148.75,332.78 170.80,336.63 157.00,354.25 154.61,348.04 135.19,355.50" fill="#ff0000"/><polygon points="140.40,348.30 159.45,339.94 156.77,333.85 178.98,336.66 166.02,354.91 163.35,348.82 144.30,357.18" fill="#ff0000"/><polygon points="148.82,357.25 168.16,349.60 165.71,343.41 187.80,347.04 174.18,364.80 171.73,358.61 152.39,366.27" fill="#ff0000"/><polygon points="157.37,367.86 176.67,360.10 174.19,353.93 196.29,357.44 182.77,375.27 180.29,369.10 160.99,376.86" fill="#ff0000"/><polygon points="167.11,377.50 184.15,365.57 180.33,360.12 202.66,358.53 193.52,378.96 189.71,373.51 172.67,385.44" fill="#ff0000"/><polygon points="177.43,385.52 191.87,370.56 187.09,365.94 208.70,360.11 203.64,381.91 198.85,377.29 184.40,392.26" fill="#ff0000"/><polygon points="184.18,385.50 201.22,373.57 197.40,368.12 219.73,366.53 210.60,386.96 206.78,381.51 189.74,393.44" fill="#ff0000"/><polygon points="191.88,378.55 212.68,378.55 212.68,371.90 231.88,383.40 212.68,394.90 212.68,388.25 191.88,388.25" fill="#ff0000"/><polygon points="200.42,378.55 221.22,378.55 221.22,371.90 240.42,383.40 221.22,394.90 221.22,388.25 200.42,388.25" fill="#ff0000"/><polygon points="208.95,378.55 229.75,378.55 229.75,371.90 248.95,383.40 229.75,394.90 229.75,388.25 208.95,388.25" fill="#ff0000"/><polygon points="220.55,371.30 239.97,378.76 242.36,372.55 256.16,390.17 234.11,394.02 236.50,387.81 217.08,380.36" fill="#ff0000"/><polygon points="229.51,369.72 248.66,377.85 251.25,371.73 264.43,389.81 242.27,392.90 244.87,386.78 225.72,378.65" fill="#ff0000"/><polygon points="237.83,361.51 257.12,369.30 259.61,363.14 273.10,380.99 250.99,384.46 253.48,378.30 234.20,370.50" fill="#ff0000"/><polygon points="246.37,342.01 265.65,349.80 268.15,343.64 281.64,361.49 259.53,364.96 262.02,358.80 242.74,351.00" fill="#ff0000"/><polygon points="251.63,328.65 272.43,328.65 272.43,322.00 291.63,333.50 272.43,345.00 272.43,338.35 251.63,338.35" fill="#ff0000"/><polygon points="260.17,339.15 280.97,339.15 280.97,332.50 300.17,344.00 280.97,355.50 280.97,348.85 260.17,348.85" fill="#ff0000"/><polygon points="268.70,318.15 289.50,318.15 289.50,311.50 308.70,323.00 289.50,334.50 289.50,327.85 268.70,327.85" fill="#ff0000"/><polygon points="276.88,307.00 296.16,299.20 293.67,293.04 315.78,296.51 302.29,314.36 299.80,308.20 280.51,315.99" fill="#ffff00"/><polygon points="285.32,317.28 304.87,310.17 302.59,303.92 324.57,308.16 310.46,325.53 308.19,319.28 288.64,326.40" fill="#ff0000"/><polygon points="293.86,326.48 313.40,319.37 311.13,313.12 333.11,317.36 319.00,334.73 316.72,328.48 297.18,335.60" fill="#ff0000"/><polygon points="302.40,316.28 321.94,309.17 319.67,302.92 341.64,307.16 327.53,324.53 325.26,318.28 305.71,325.40" fill="#ff0000"/><polygon points="311.21,317.06 330.06,308.27 327.25,302.24 349.51,304.55 336.97,323.08 334.16,317.06 315.31,325.85" fill="#ff0000"/><polygon points="319.47,306.28 339.01,299.17 336.74,292.92 358.71,297.16 344.60,314.53 342.33,308.28 322.78,315.40" fill="#ffff00"/><polygon points="328.00,296.68 347.55,289.57 345.27,283.32 367.25,287.56 353.14,304.93 350.87,298.68 331.32,305.80" fill="#ffff00"/><polygon points="336.54,295.48 356.08,288.37 353.81,282.12 375.79,286.36 361.68,303.73 359.40,297.48 339.86,304.60" fill="#ffff00"/><polygon points="345.08,294.28 364.62,287.17 362.35,280.92 384.32,285.16 370.21,302.53 367.94,296.28 348.39,303.40" fill="#ffff00"/><polygon points="353.61,293.08 373.16,285.97 370.88,279.72 392.86,283.96 378.75,301.33 376.47,295.08 356.93,302.20" fill="#ffff00"/><polygon points="362.24,295.00 381.52,287.20 379.03,281.04 401.14,284.51 387.65,302.36 385.16,296.20 365.87,303.99" fill="#ffff00"/><polygon points="370.96,280.06 389.81,271.27 387.00,265.24 409.26,267.55 396.72,286.08 393.91,280.06 375.06,288.85" fill="#ffff00"/><polygon points="381.23,275.14 397.17,261.77 392.89,256.68 414.99,253.14 407.68,274.30 403.40,269.20 387.47,282.57" fill="#ffff00"/><polygon points="390.10,273.78 405.56,259.86 401.11,254.92 423.07,250.62 416.50,272.01 412.05,267.07 396.59,280.99" fill="#ffff00"/><polygon points="398.81,273.09 414.02,258.91 409.49,254.04 431.37,249.36 425.17,270.86 420.64,266.00 405.42,280.19" fill="#ffff00"/><polygon points="407.52,272.40 422.49,257.96 417.87,253.17 439.67,248.11 433.84,269.72 429.22,264.93 414.26,279.38" fill="#ffff00"/><polygon points="416.43,266.02 430.88,251.06 426.10,246.44 447.71,240.61 442.64,262.41 437.86,257.79 423.41,272.76" fill="#ffff00"/><polygon points="424.97,285.22 439.42,270.26 434.64,265.64 456.25,259.81 451.18,281.61 446.40,276.99 431.95,291.96" fill="#ffff00"/><polygon points="432.78,302.78 448.24,288.86 443.79,283.92 465.75,279.62 459.18,301.01 454.73,296.07 439.27,309.99" fill="#ffff00"/><polygon points="440.83,311.52 456.99,298.43 452.81,293.26 474.97,290.11 467.28,311.13 463.10,305.97 446.93,319.06" fill="#ffff00"/><polygon points="450.11,324.85 465.20,310.53 460.62,305.71 482.47,300.83 476.46,322.39 471.88,317.57 456.79,331.89" fill="#ff0000"/><polygon points="458.92,335.61 473.63,320.90 468.93,316.20 490.64,310.76 485.19,332.47 480.49,327.76 465.78,342.47" fill="#ff0000"/><polygon points="467.46,335.41 482.17,320.70 477.47,316.00 499.17,310.56 493.73,332.27 489.03,327.56 474.32,342.27" fill="#ff0000"/><polygon points="476.00,356.21 490.70,341.50 486.00,336.80 507.71,331.36 502.27,353.07 497.56,348.36 482.86,363.07" fill="#ff0000"/><polygon points="484.53,355.21 499.24,340.50 494.54,335.80 516.25,330.36 510.80,352.07 506.10,347.36 491.39,362.07" fill="#ff0000"/><polygon points="493.45,366.32 507.64,351.11 502.78,346.57 524.28,340.37 519.60,362.26 514.73,357.72 500.55,372.93" fill="#ff0000"/><polygon points="503.97,373.87 515.60,356.62 510.09,352.91 530.36,343.42 529.16,365.77 523.64,362.05 512.01,379.29" fill="#ff0000"/><polygon points="513.51,359.90 523.91,341.88 518.15,338.56 537.71,327.68 538.07,350.06 532.31,346.73 521.91,364.75" fill="#ff0000"/><polygon points="524.55,360.43 532.01,341.02 525.80,338.63 543.42,324.83 547.27,346.87 541.06,344.49 533.61,363.91" fill="#ff0000"/><polygon points="533.39,361.64 540.50,342.09 534.25,339.82 551.62,325.71 555.86,347.68 549.62,345.41 542.50,364.95" fill="#ff0000"/><polygon points="537.88,353.60 549.81,336.56 544.36,332.75 564.79,323.62 563.20,345.94 557.75,342.13 545.82,359.16" fill="#ff0000"/><polygon points="544.28,346.61 558.99,331.90 554.29,327.20 576.00,321.76 570.55,343.47 565.85,338.76 551.14,353.47" fill="#ff0000"/><polygon points="552.64,344.50 567.60,330.06 562.98,325.27 584.78,320.21 578.96,341.82 574.34,337.03 559.37,351.48" fill="#ff0000"/><polygon points="558.75,348.86 577.60,340.07 574.79,334.04 597.05,336.35 584.51,354.88 581.70,348.86 562.85,357.65" fill="#ff0000"/><polygon points="567.44,359.86 585.97,350.42 582.96,344.49 605.28,346.02 593.40,364.98 590.38,359.06 571.85,368.50" fill="#ff0000"/><polygon points="575.82,369.06 594.68,360.27 591.86,354.24 614.13,356.55 601.59,375.08 598.77,369.06 579.92,377.85" fill="#ff0000"/><polygon points="584.33,378.48 603.25,369.85 600.49,363.80 622.74,366.31 610.03,384.73 607.28,378.68 588.35,387.31" fill="#ff0000"/><polygon points="608.22,403.80 608.22,383.00 601.57,383.00 613.07,363.80 624.57,383.00 617.92,383.00 617.92,403.80" fill="#ff0000"/><polygon points="641.61,388.55 620.81,388.55 620.81,395.20 601.61,383.70 620.81,372.20 620.81,378.85 641.61,378.85" fill="#ff0000"/><polygon points="650.14,388.55 629.34,388.55 629.34,395.20 610.14,383.70 629.34,372.20 629.34,378.85 650.14,378.85" fill="#ff0000"/><polygon points="658.68,388.85 637.88,388.85 637.88,395.50 618.68,384.00 637.88,372.50 637.88,379.15 658.68,379.15" fill="#ff0000"/><polygon points="665.28,392.86 645.19,387.48 643.47,393.90 627.90,377.82 649.42,371.68 647.70,378.11 667.79,383.49" fill="#ff0000"/><polygon points="675.75,389.55 654.95,389.55 654.95,396.20 635.75,384.70 654.95,373.20 654.95,379.85 675.75,379.85" fill="#ff0000"/><polygon points="650.62,396.38 660.38,378.02 654.51,374.89 673.68,363.34 674.82,385.69 668.95,382.57 659.18,400.94" fill="#ff0000"/><polygon points="652.37,377.28 671.92,370.17 669.64,363.92 691.62,368.16 677.51,385.53 675.23,379.28 655.69,386.40" fill="#ff0000"/><polygon points="686.21,353.40 686.21,374.20 692.86,374.20 681.36,393.40 669.86,374.20 676.51,374.20 676.51,353.40" fill="#ff0000"/><polygon points="670.15,375.80 688.16,365.40 684.84,359.64 707.22,360.00 696.34,379.56 693.01,373.80 675.00,384.20" fill="#ff0000"/><polygon points="678.90,371.49 696.54,360.46 693.02,354.82 715.39,354.40 705.20,374.33 701.68,368.69 684.04,379.71" fill="#ff0000"/><polygon points="688.53,373.64 704.46,360.27 700.19,355.18 722.29,351.64 714.97,372.80 710.70,367.70 694.76,381.07" fill="#ff0000"/><polygon points="697.93,374.71 712.64,360.00 707.94,355.30 729.65,349.86 724.20,371.57 719.50,366.86 704.79,381.57" fill="#ff0000"/><polygon points="706.47,383.71 721.18,369.00 716.47,364.30 738.18,358.86 732.74,380.57 728.04,375.86 713.33,390.57" fill="#ff0000"/><polygon points="727.73,393.60 727.73,372.80 721.08,372.80 732.58,353.60 744.08,372.80 737.43,372.80 737.43,393.60" fill="#ff0000"/><polygon points="750.25,400.44 736.88,384.50 731.79,388.78 728.26,366.68 749.41,374.00 744.31,378.27 757.68,394.20" fill="#ff0000"/><polygon points="765.27,385.40 746.73,375.96 743.71,381.88 731.83,362.92 754.16,361.39 751.14,367.32 769.67,376.76" fill="#ff0000"/><polygon points="778.18,368.85 757.38,368.85 757.38,375.50 738.18,364.00 757.38,352.50 757.38,359.15 778.18,359.15" fill="#ff0000"/><polygon points="786.72,368.85 765.92,368.85 765.92,375.50 746.72,364.00 765.92,352.50 765.92,359.15 786.72,359.15" fill="#ff0000"/><polygon points="795.26,368.85 774.46,368.85 774.46,375.50 755.26,364.00 774.46,352.50 774.46,359.15 795.26,359.15" fill="#ff0000"/><polygon points="803.79,368.85 782.99,368.85 782.99,375.50 763.79,364.00 782.99,352.50 782.99,359.15 803.79,359.15" fill="#ff0000"/><polygon points="812.33,368.85 791.53,368.85 791.53,375.50 772.33,364.00 791.53,352.50 791.53,359.15 812.33,359.15" fill="#ff0000"/><polygon points="793.78,383.52 796.14,362.86 789.53,362.10 803.13,344.33 812.38,364.71 805.77,363.95 803.42,384.62" fill="#ff0000"/><polygon points="829.73,350.49 810.53,358.49 813.08,364.62 790.94,361.39 804.24,343.39 806.80,349.53 826.00,341.54" fill="#ff0000"/><polygon points="835.51,353.29 820.80,368.00 825.50,372.70 803.79,378.14 809.24,356.43 813.94,361.14 828.65,346.43" fill="#ff0000"/><polygon points="839.76,357.29 830.45,375.89 836.40,378.86 817.52,390.88 815.83,368.57 821.78,371.54 831.09,352.95" fill="#ff0000"/><polygon points="843.26,356.15 839.65,376.63 846.19,377.78 831.54,394.70 823.54,373.79 830.09,374.95 833.70,354.46" fill="#ff0000"/><polygon points="838.69,395.90 838.69,375.10 832.04,375.10 843.54,355.90 855.04,375.10 848.39,375.10 848.39,395.90" fill="#ff0000"/><polygon points="858.65,354.50 856.84,375.22 863.47,375.80 850.34,393.92 840.55,373.79 847.18,374.37 848.99,353.65" fill="#ff0000"/><polygon points="876.47,395.93 857.77,386.81 854.86,392.79 842.64,374.03 864.94,372.11 862.02,378.09 880.72,387.21" fill="#ff0000"/><polygon points="889.15,379.45 868.35,379.45 868.35,386.10 849.15,374.60 868.35,363.10 868.35,369.75 889.15,369.75" fill="#ff0000"/><polygon points="897.69,368.75 876.89,368.75 876.89,375.40 857.69,363.90 876.89,352.40 876.89,359.05 897.69,359.05" fill="#ff0000"/><polygon points="906.22,368.75 885.42,368.75 885.42,375.40 866.22,363.90 885.42,352.40 885.42,359.05 906.22,359.05" fill="#ff0000"/><polygon points="914.76,368.75 893.96,368.75 893.96,375.40 874.76,363.90 893.96,352.40 893.96,359.05 914.76,359.05" fill="#ff0000"/><polygon points="923.30,368.75 902.50,368.75 902.50,375.40 883.30,363.90 902.50,352.40 902.50,359.05 923.30,359.05" fill="#ff0000"/><polygon points="931.83,368.75 911.03,368.75 911.03,375.40 891.83,363.90 911.03,352.40 911.03,359.05 931.83,359.05" fill="#ff0000"/><polygon points="904.46,373.55 916.98,356.94 911.67,352.94 932.40,344.53 930.03,366.78 924.72,362.78 912.21,379.39" fill="#ff0000"/><polygon points="912.77,373.07 925.57,356.68 920.33,352.59 941.22,344.54 938.46,366.75 933.22,362.66 920.41,379.05" fill="#ff0000"/><polygon points="957.79,375.09 937.07,376.90 937.65,383.53 917.52,373.74 935.64,360.61 936.22,367.24 956.94,365.43" fill="#ff0000"/><polygon points="966.43,350.52 946.88,357.63 949.16,363.88 927.18,359.64 941.29,342.27 943.57,348.52 963.11,341.40" fill="#ff0000"/><polygon points="972.08,353.29 957.38,368.00 962.08,372.70 940.37,378.14 945.81,356.43 950.52,361.14 965.22,346.43" fill="#ff0000"/><polygon points="980.62,353.29 965.91,368.00 970.61,372.70 948.91,378.14 954.35,356.43 959.05,361.14 973.76,346.43" fill="#ff0000"/><polygon points="989.16,353.79 974.45,368.50 979.15,373.20 957.44,378.64 962.89,356.93 967.59,361.64 982.30,346.93" fill="#ff0000"/><polygon points="997.69,353.29 982.98,368.00 987.69,372.70 965.98,378.14 971.42,356.43 976.12,361.14 990.83,346.43" fill="#ff0000"/><polygon points="1006.59,364.21 991.38,378.39 995.91,383.26 974.03,387.94 980.23,366.44 984.76,371.30 999.98,357.11" fill="#ff0000"/><polygon points="1016.94,366.20 998.92,376.60 1002.25,382.36 979.87,382.00 990.75,362.44 994.07,368.20 1012.09,357.80" fill="#ff0000"/><polygon points="1025.73,378.45 1004.93,378.45 1004.93,385.10 985.73,373.60 1004.93,362.10 1004.93,368.75 1025.73,368.75" fill="#ff0000"/><polygon points="1034.26,369.15 1013.46,369.15 1013.46,375.80 994.26,364.30 1013.46,352.80 1013.46,359.45 1034.26,359.45" fill="#ff0000"/></g>
</svg></body></html>
